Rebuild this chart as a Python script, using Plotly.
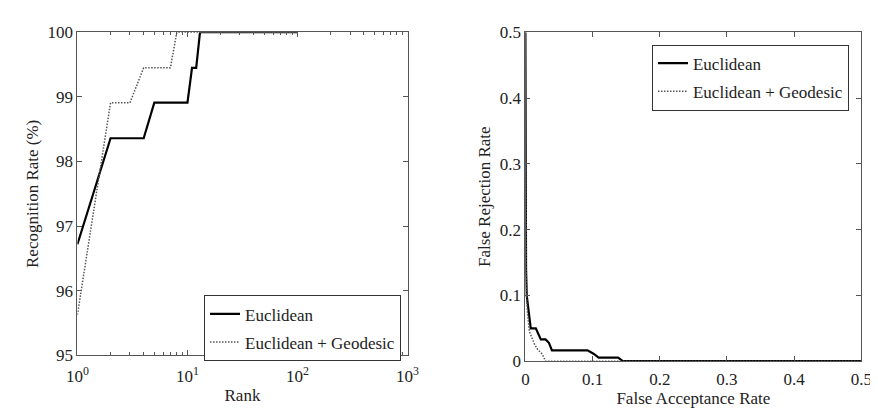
import plotly.graph_objects as go

# ---- Left: CMC curves (rank vs recognition rate) ----
rank_euc = [1, 2, 4, 5, 10, 11, 12, 13, 100]
rate_euc = [96.72, 98.36, 98.36, 98.91, 98.91, 99.45, 99.45, 100.0, 100.0]
rank_geo = [1, 2, 3, 4, 7, 8, 100]
rate_geo = [95.63, 98.91, 98.91, 99.45, 99.45, 100.0, 100.0]

# ---- Right: FAR vs FRR ----
far_euc = [0.0, 0.0005, 0.001, 0.002, 0.004, 0.006, 0.008, 0.0155, 0.02, 0.023, 0.03,
           0.035, 0.037, 0.0395, 0.0925, 0.102, 0.109, 0.138, 0.145, 0.5]
frr_euc = [0.5, 0.18, 0.14, 0.10, 0.08, 0.06, 0.05, 0.05, 0.038, 0.033, 0.033,
           0.028, 0.023, 0.0164, 0.0164, 0.011, 0.0055, 0.0055, 0.0, 0.0]
far_geo = [0.0, 0.0005, 0.0013, 0.003, 0.006, 0.008, 0.011, 0.013, 0.018, 0.025, 0.03, 0.5]
frr_geo = [0.5, 0.15, 0.11, 0.074, 0.045, 0.04, 0.03, 0.027, 0.018, 0.011, 0.0, 0.0]

left_yticks = [95, 96, 97, 98, 99, 100]
left_xticks = [1, 10, 100, 1000]
left_xticktext = ["10<sup>0</sup>", "10<sup>1</sup>", "10<sup>2</sup>", "10<sup>3</sup>"]
right_ticks = [0, 0.1, 0.2, 0.3, 0.4, 0.5]
right_ticktext = ["0", "0.1", "0.2", "0.3", "0.4", "0.5"]

minor_vals = [m * 10 ** d for d in range(3) for m in range(2, 10)]

FONT = "Liberation Serif, Times New Roman, serif"
AX = "#555555"
FS = 17

fig = go.Figure()
fig.add_trace(go.Scatter(x=rank_euc, y=rate_euc, mode="lines", name="Euclidean",
                         line=dict(color="black", width=2.2), xaxis="x", yaxis="y",
                         legend="legend", legendgroup="a"))
fig.add_trace(go.Scatter(x=rank_geo, y=rate_geo, mode="lines", name="Euclidean + Geodesic",
                         line=dict(color="#555555", width=1.5, dash="1.5px,1.5px"),
                         xaxis="x", yaxis="y", legend="legend", legendgroup="b"))
fig.add_trace(go.Scatter(x=far_euc, y=frr_euc, mode="lines", name="Euclidean",
                         line=dict(color="black", width=2.2), xaxis="x2", yaxis="y2",
                         legend="legend2", legendgroup="c"))
fig.add_trace(go.Scatter(x=far_geo, y=frr_geo, mode="lines", name="Euclidean + Geodesic",
                         line=dict(color="#555555", width=1.5, dash="1.5px,1.5px"),
                         xaxis="x2", yaxis="y2", legend="legend2", legendgroup="d"))

common = dict(showline=True, linecolor=AX, linewidth=1, mirror="allticks", ticks="inside",
              ticklen=5, tickcolor=AX, showgrid=False, zeroline=False,
              tickfont=dict(family=FONT, size=FS, color="#222"),
              title_font=dict(family=FONT, size=FS, color="#222"))

legend_common = dict(font=dict(family=FONT, size=FS, color="#222"), bgcolor="white",
                     bordercolor="#333", borderwidth=1, xanchor="left", yanchor="top",
                     itemwidth=30, tracegroupgap=3)

fig.update_layout(
    width=878, height=408,
    margin=dict(l=0, r=0, t=0, b=0),
    paper_bgcolor="white", plot_bgcolor="white",
    showlegend=True,
    xaxis=dict(domain=[60 / 878, 399 / 878], type="log", range=[0, 3],
               tickvals=left_xticks, ticktext=left_xticktext, ticklabelstandoff=5,
               minor=dict(tickvals=minor_vals, ticks="inside", ticklen=3, tickcolor=AX),
               title=dict(text="Rank", standoff=4), anchor="y", **common),
    yaxis=dict(domain=[(408 - 355) / 408, (408 - 16) / 408], range=[95, 100],
               tickvals=left_yticks, title=dict(text="Recognition Rate (%)", standoff=4),
               anchor="x", **common),
    xaxis2=dict(domain=[520 / 878, 865 / 878], range=[0, 0.5],
                tickvals=right_ticks, ticktext=right_ticktext, ticklabelstandoff=2,
                title=dict(text="False Acceptance Rate", standoff=0), anchor="y2", **common),
    yaxis2=dict(domain=[(408 - 361) / 408, (408 - 16) / 408], range=[0, 0.5],
                tickvals=right_ticks, ticktext=right_ticktext,
                title=dict(text="False Rejection Rate", standoff=4), anchor="x2", **common),
    legend=dict(x=190 / 878, y=(408 - 292) / 408, **legend_common),
    legend2=dict(x=650 / 878, y=(408 - 29) / 408, **legend_common),
)

fig.write_html("out.html")
